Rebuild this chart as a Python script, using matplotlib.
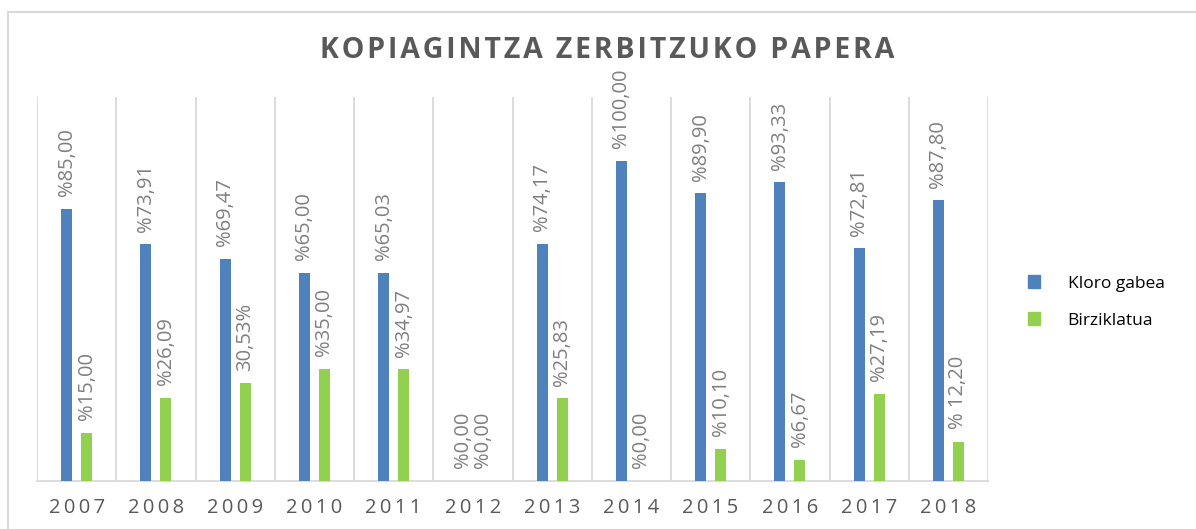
import matplotlib
matplotlib.use('Agg')
import matplotlib.pyplot as plt
from matplotlib.patches import Patch, Rectangle
import numpy as np

plt.rcParams['font.family'] = ['Open Sans', 'DejaVu Sans']

# data
years = ['2007', '2008', '2009', '2010', '2011', '2012',
         '2013', '2014', '2015', '2016', '2017', '2018']
kloro_gabea = [85.00, 73.91, 69.47, 65.00, 65.03, 0.00,
               74.17, 100.00, 89.90, 93.33, 72.81, 87.80]
birziklatua = [15.00, 26.09, 30.53, 35.00, 34.97, 0.00,
               25.83, 0.00, 10.10, 6.67, 27.19, 12.20]
kloro_labels = ['%85,00', '%73,91', '%69,47', '%65,00', '%65,03', '%0,00',
                '%74,17', '%100,00', '%89,90', '%93,33', '%72,81', '%87,80']
birz_labels = ['%15,00', '%26,09', '30,53%', '%35,00', '%34,97', '%0,00',
               '%25,83', '%0,00', '%10,10', '%6,67', '%27,19', '% 12,20']

blue = '#4f81bd'
green = '#92d050'
grid_c = '#d9d9d9'

fig = plt.figure(figsize=(11.96, 5.29), dpi=100)
ax = fig.add_axes([37/1196, 48/529, 951/1196, 384/529])

x = np.arange(len(years))
w = 0.14
off = 0.126
ax.bar(x - off, kloro_gabea, w, color=blue, zorder=3)
ax.bar(x + off, birziklatua, w, color=green, zorder=3)

for i in range(len(years)):
    ax.annotate(kloro_labels[i], (x[i] - off, kloro_gabea[i]), xytext=(0, 9),
                textcoords='offset points', rotation=90, ha='center', va='bottom',
                fontsize=14.5, color='#7f7f7f')
    ax.annotate(birz_labels[i], (x[i] + off, birziklatua[i]), xytext=(0, 9),
                textcoords='offset points', rotation=90, ha='center', va='bottom',
                fontsize=14.5, color='#7f7f7f')

ax.set_xlim(-0.5, len(years) - 0.5)
ax.set_ylim(0, 120)
ax.set_yticks([])
ax.set_xticks(x)
ax.set_xticklabels(['\u2009'.join(y) for y in years], fontsize=14.5, color='#595959')
ax.tick_params(axis='x', length=0, pad=12)
ax.set_xticks(np.arange(-0.5, len(years)), minor=True)
ax.tick_params(axis='x', which='minor', length=0)
ax.grid(True, axis='x', which='minor', color=grid_c, lw=1.3, zorder=0)
for s in ['left', 'right', 'top']:
    ax.spines[s].set_visible(False)
ax.spines['bottom'].set_color(grid_c)
ax.spines['bottom'].set_linewidth(1.3)

fig.text(607/1196, 1 - 51/529, '\u200a'.join('KOPIAGINTZA ZERBITZUKO PAPERA'),
         ha='center', va='center', fontsize=20.5, fontweight='bold', color='#595959')

handles = [Patch(color=blue), Patch(color=green)]
fig.legend(handles, ['Kloro gabea', 'Birziklatua'], loc='center left',
           bbox_to_anchor=(1012/1196, 1 - 302/529), frameon=False, fontsize=12.5,
           labelcolor='#000000', handlelength=0.7, handleheight=0.7,
           handletextpad=1.6, labelspacing=1.2)

fig.patches.append(Rectangle((8/1196, -0.1), 1.2, 1.1 - 12/529, transform=fig.transFigure,
                             fill=False, edgecolor=grid_c, lw=1.5))

fig.savefig('out.png', dpi=100)
